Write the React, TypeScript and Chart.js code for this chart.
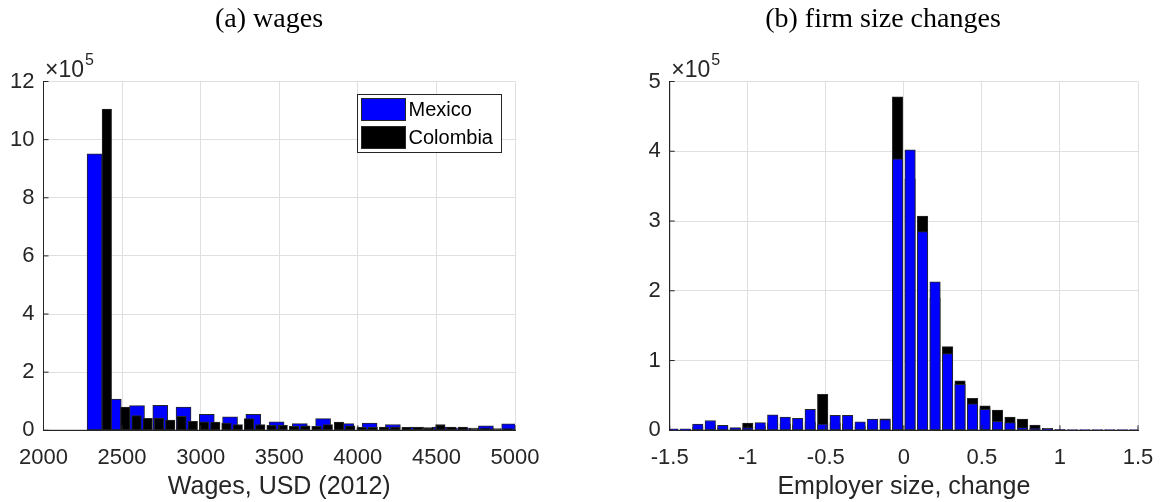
import { useEffect, useRef } from "react";
import { Chart, registerables } from "chart.js";

Chart.register(...registerables);

// ---------- data (counts in units of 10^5) ----------
const wageTicks = [2000, 2500, 3000, 3500, 4000, 4500, 5000];
const mexicoWageBins = [
  2325, 2447, 2595, 2743, 2891, 3039, 3187, 3335, 3483, 3631, 3779, 3927, 4075,
  4223, 4371, 4519, 4667, 4815, 4963,
];
const mexicoWageCounts = [
  9.51, 1.07, 0.85, 0.86, 0.8, 0.55, 0.46, 0.55, 0.29, 0.23, 0.4, 0.23, 0.25,
  0.2, 0.11, 0.11, 0.08, 0.15, 0.22,
];
const colombiaWageBins = [
  2403, 2520, 2592, 2663, 2735, 2806, 2878, 2950, 3021, 3093, 3164, 3236, 3308,
  3379, 3451, 3522, 3594, 3666, 3737, 3809, 3880, 3952, 4024, 4095, 4167, 4238,
  4310, 4382, 4453, 4525, 4596, 4668, 4740, 4811, 4883, 4954,
];
const colombiaWageCounts = [
  11.05, 0.8, 0.51, 0.41, 0.42, 0.35, 0.48, 0.31, 0.29, 0.28, 0.25, 0.2, 0.4,
  0.2, 0.17, 0.17, 0.14, 0.15, 0.14, 0.2, 0.28, 0.15, 0.1, 0.1, 0.11, 0.11, 0.1,
  0.1, 0.09, 0.2, 0.11, 0.11, 0.08, 0.08, 0.06, 0.06,
];

const sizeTicks = [-1.5, -1, -0.5, 0, 0.5, 1, 1.5];
const sizeChangeBins = [
  -1.48, -1.4, -1.32, -1.24, -1.16, -1.08, -1.0, -0.92, -0.84, -0.76, -0.68,
  -0.6, -0.52, -0.44, -0.36, -0.28, -0.2, -0.12, -0.04, 0.04, 0.12, 0.2, 0.28,
  0.36, 0.44, 0.52, 0.6, 0.68, 0.76, 0.84, 0.92, 1.0, 1.08, 1.16, 1.24, 1.32,
  1.4, 1.48,
];
const mexicoSizeCounts = [
  0.02, 0.02, 0.09, 0.14, 0.07, 0.04, 0.04, 0.11, 0.22, 0.19, 0.17, 0.3, 0.09,
  0.215, 0.215, 0.12, 0.16, 0.155, 3.89, 4.02, 2.85, 2.13, 1.1, 0.66, 0.38, 0.3,
  0.13, 0.11, 0.04, 0.03, 0.01, 0.005, 0.005, 0.005, 0.005, 0.005, 0.005, 0.005,
];
const colombiaSizeCounts = [
  0.01, 0.01, 0.05, 0.08, 0.04, 0.03, 0.105, 0.06, 0.1, 0.09, 0.08, 0.12, 0.515,
  0.1, 0.09, 0.06, 0.08, 0.165, 4.78, 3.6, 3.07, 1.9, 1.2, 0.71, 0.46, 0.35,
  0.29, 0.19, 0.16, 0.076, 0.03, 0.01, 0.005, 0.005, 0.005, 0.005, 0.005, 0.005,
];

// ---------- styling ----------
const AXIS = "#262626";
const GRID = "#dfdfdf";
const BLUE = "#0000ff";
const BLACK = "#000000";
const SANS = '"Liberation Sans", Arial, Helvetica, sans-serif';
const SERIF = '"Liberation Serif", "Times New Roman", serif';
const H = 502;

const toPoints = (xs: number[], ys: number[]) => xs.map((x, i) => ({ x, y: ys[i] }));

// Draws the axis lines, inward tick marks, the x10^5 multiplier, the panel
// title, the x-axis label and (optionally) the boxed legend.
const panelDecor = {
  id: "panelDecor",
  afterDraw(chart: any, _args: any, opts: any) {
    const { ctx, chartArea: a } = chart;
    const xs = chart.scales.x;
    const ys = chart.scales.y;
    ctx.save();

    ctx.strokeStyle = AXIS;
    ctx.lineWidth = 1;
    ctx.beginPath();
    ctx.moveTo(a.left, a.top);
    ctx.lineTo(a.left, a.bottom);
    ctx.lineTo(a.right, a.bottom);
    for (const t of ys.ticks) {
      const y = ys.getPixelForValue(t.value);
      ctx.moveTo(a.left, y);
      ctx.lineTo(a.left + 5, y);
    }
    for (const t of xs.ticks) {
      const x = xs.getPixelForValue(t.value);
      ctx.moveTo(x, a.bottom);
      ctx.lineTo(x, a.bottom - 5);
    }
    ctx.stroke();

    // exponent multiplier
    ctx.fillStyle = AXIS;
    ctx.textAlign = "left";
    ctx.textBaseline = "alphabetic";
    ctx.font = `23px ${SANS}`;
    const base = "\u00d710";
    ctx.fillText(base, a.left + 1.5, 77);
    const bw = ctx.measureText(base).width;
    ctx.font = `16px ${SANS}`;
    ctx.fillText("5", a.left + 1.5 + bw + 1, 65);

    // panel title
    ctx.fillStyle = "#000";
    ctx.textAlign = "center";
    ctx.textBaseline = "middle";
    ctx.font = `28px ${SERIF}`;
    ctx.fillText(opts.title, opts.titleX, 20);

    // x-axis label
    ctx.fillStyle = AXIS;
    ctx.font = `25px ${SANS}`;
    ctx.fillText(opts.xLabel, (a.left + a.right) / 2, 487);

    if (opts.legend) {
      const ds = chart.data.datasets;
      const bx = 357.5;
      const by = 94.5;
      ctx.fillStyle = "#fff";
      ctx.fillRect(bx, by, 144, 58);
      ctx.strokeStyle = AXIS;
      ctx.strokeRect(bx, by, 144, 58);
      ds.forEach((d: any, i: number) => {
        const sy = by + 4 + i * 28;
        ctx.fillStyle = d.backgroundColor;
        ctx.fillRect(bx + 4, sy, 44, 22);
        ctx.strokeStyle = AXIS;
        ctx.strokeRect(bx + 4, sy, 44, 22);
        ctx.fillStyle = "#000";
        ctx.textAlign = "left";
        ctx.textBaseline = "middle";
        ctx.font = `20px ${SANS}`;
        ctx.fillText(d.label, bx + 51, sy + 11.5);
      });
    }
    ctx.restore();
  },
};

function axisOptions(
  xMin: number,
  xMax: number,
  xStep: number,
  yMax: number,
  yStep: number,
  yWidth: number
) {
  const tickFont = { family: SANS, size: 22 };
  return {
    x: {
      type: "linear",
      min: xMin,
      max: xMax,
      offset: false,
      afterBuildTicks: (s: any) => {
        s.ticks = s.ticks.map((t: any) => ({ value: Math.round(t.value * 100) / 100 }));
      },
      ticks: {
        stepSize: xStep,
        color: AXIS,
        font: tickFont,
        padding: 14,
        maxRotation: 0,
        autoSkip: false,
        callback: (v: number) => String(v),
      },
      grid: { color: GRID, drawTicks: false, offset: false },
      border: { color: AXIS, width: 1 },
      afterFit: (s: any) => {
        s.height = H - 430.3;
        s.paddingLeft = 0;
        s.paddingRight = 0;
      },
    },
    y: {
      min: 0,
      max: yMax,
      ticks: {
        stepSize: yStep,
        color: AXIS,
        font: tickFont,
        padding: 9,
        callback: (v: number) => String(v),
      },
      grid: { color: GRID, drawTicks: false },
      border: { color: AXIS, width: 1 },
      afterFit: (s: any) => {
        s.width = yWidth;
        s.paddingTop = 0;
        s.paddingBottom = 0;
      },
    },
  };
}

function wageConfig(): any {
  return {
    type: "bar",
    data: {
      datasets: [
        {
          label: "Mexico",
          data: toPoints(mexicoWageBins, mexicoWageCounts),
          backgroundColor: BLUE,
          borderColor: AXIS,
          borderWidth: 1,
          borderSkipped: false,
          barThickness: 15,
          grouped: false,
          order: 2,
        },
        {
          label: "Colombia",
          data: toPoints(colombiaWageBins, colombiaWageCounts),
          backgroundColor: BLACK,
          borderColor: AXIS,
          borderWidth: 1,
          borderSkipped: false,
          barThickness: 9.5,
          grouped: false,
          order: 1,
        },
      ],
    },
    options: {
      responsive: false,
      animation: false,
      devicePixelRatio: 1,
      layout: { padding: { left: 0, right: 65, top: 81.5, bottom: 0 } },
      plugins: {
        legend: { display: false },
        tooltip: { enabled: false },
        panelDecor: {
          title: "(a) wages",
          titleX: 269,
          xLabel: "Wages, USD (2012)",
          legend: true,
        },
      },
      scales: axisOptions(wageTicks[0], wageTicks[wageTicks.length - 1], 500, 12, 2, 43.5),
    },
    plugins: [panelDecor],
  };
}

function sizeConfig(): any {
  return {
    type: "bar",
    data: {
      datasets: [
        {
          label: "Mexico",
          data: toPoints(sizeChangeBins, mexicoSizeCounts),
          backgroundColor: BLUE,
          borderColor: AXIS,
          borderWidth: 1,
          borderSkipped: false,
          barThickness: 10.5,
          grouped: false,
          order: 1,
        },
        {
          label: "Colombia",
          data: toPoints(sizeChangeBins, colombiaSizeCounts),
          backgroundColor: BLACK,
          borderColor: AXIS,
          borderWidth: 1,
          borderSkipped: false,
          barThickness: 10.5,
          grouped: false,
          order: 2,
        },
      ],
    },
    options: {
      responsive: false,
      animation: false,
      devicePixelRatio: 1,
      layout: { padding: { left: 0, right: 23, top: 81.5, bottom: 0 } },
      plugins: {
        legend: { display: false },
        tooltip: { enabled: false },
        panelDecor: {
          title: "(b) firm size changes",
          titleX: 303,
          xLabel: "Employer size, change",
          legend: false,
        },
      },
      scales: axisOptions(sizeTicks[0], sizeTicks[sizeTicks.length - 1], 0.5, 5, 1, 89.7),
    },
    plugins: [panelDecor],
  };
}

function Panel({ make, left, width }: { make: () => any; left: number; width: number }) {
  const ref = useRef<HTMLCanvasElement>(null);
  useEffect(() => {
    const chart = new Chart(ref.current as HTMLCanvasElement, make());
    return () => chart.destroy();
  }, [make]);
  return (
    <canvas
      ref={ref}
      width={width}
      height={H}
      style={{ position: "absolute", left, top: 0, width, height: H }}
    />
  );
}

export default function App() {
  return (
    <div
      style={{
        position: "absolute",
        left: 0,
        top: 0,
        width: 1161,
        height: H,
        background: "#fff",
        overflow: "hidden",
      }}
    >
      <Panel make={wageConfig} left={0} width={580} />
      <Panel make={sizeConfig} left={580} width={581} />
    </div>
  );
}
